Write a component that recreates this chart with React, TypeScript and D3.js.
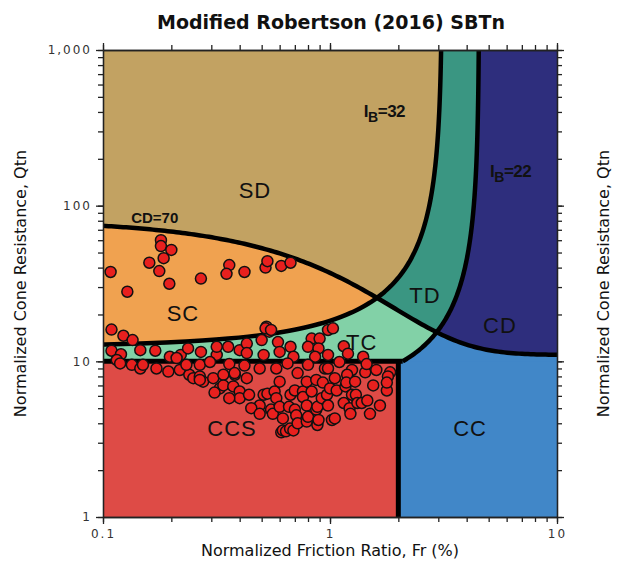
import * as d3 from "d3";
import { useEffect, useRef } from "react";

// Axis ticks
const xTicks = [0.1, 1, 10];
const yTicks = [1, 10, 100, 1000];

// Zone names and where their labels sit (Fr, Qtn)
const zoneNames = ["SD", "SC", "TD", "TC", "CD", "CC", "CCS"];
const zoneFr = [0.467, 0.225, 2.62, 1.38, 5.61, 4.14, 0.37];
const zoneQtn = [126, 20.4, 26.7, 13.3, 17.1, 3.73, 3.73];

// CPT data: [Fr (%), Qtn]
const scPoints: [number, number][] = [
  [0.18, 60], [0.18, 55], [0.2, 52], [0.16, 43], [0.185, 46], [0.177, 38], [0.108, 37.5],
  [0.196, 31.5], [0.128, 28], [0.27, 34], [0.36, 41.5], [0.35, 36.5], [0.42, 37.5],
  [0.52, 40], [0.53, 44], [0.61, 41], [0.67, 43],
];

const tcPoints: [number, number][] = [
  [0.109, 16], [0.123, 14.6], [0.135, 13.7], [0.525, 16.7], [0.54, 15.5], [0.52, 16.3],
  [0.55, 15.9], [0.98, 15.9], [1.03, 16.3], [0.109, 11.7], [0.12, 11.1], [0.146, 11.8],
  [0.17, 11.7], [0.197, 10.7], [0.22, 11], [0.237, 12.1], [0.27, 11.5], [0.317, 11],
  [0.356, 12.4], [0.317, 12.4], [0.4, 11.8], [0.211, 10.5], [0.43, 13], [0.43, 11.3],
  [0.5, 13.7], [0.59, 13.3], [0.67, 12.4], [0.83, 14], [0.9, 14], [0.8, 12.4], [0.89, 12.1],
  [0.51, 11], [0.6, 11.5], [0.69, 10.7], [0.86, 10.7], [0.98, 11], [1.15, 12.5], [1.2, 11.2],
  [1.4, 10.7],
];

const ccsPoints: [number, number][] = [
  [0.115, 10.2], [0.119, 9.7], [0.134, 9.5], [0.146, 9.0], [0.15, 9.5], [0.172, 9],
  [0.194, 8.6], [0.218, 8.8], [0.24, 8.2], [0.25, 7.8], [0.267, 8], [0.276, 7.4],
  [0.306, 7.8], [0.339, 8.2], [0.381, 8.2], [0.233, 9.5], [0.267, 9.5], [0.296, 9.9],
  [0.36, 9.6], [0.42, 9.4], [0.49, 9], [0.58, 9], [0.65, 9.7], [0.72, 8.4], [0.8, 9.5],
  [0.95, 9], [0.98, 9.0], [1.1, 9.9], [1.25, 8.8], [1.43, 8.5], [1.45, 9.6], [1.6, 8.8],
  [1.84, 8.5], [1.8, 8], [1.05, 7.8], [1.19, 8.2], [0.267, 7.6], [0.327, 6.7], [0.339, 7],
  [0.375, 6.9], [0.38, 8.4], [0.4, 6.4], [0.4, 5.8], [0.43, 7.8], [0.44, 6.1], [0.49, 5.2],
  [0.51, 6.1], [0.53, 6.2], [0.55, 4.9], [0.56, 4.6], [0.57, 6.4], [0.58, 5.8], [0.6, 7.4],
  [0.6, 5.1], [0.61, 3.5], [0.62, 4.3], [0.62, 3.6], [0.64, 3.55], [0.66, 5.1], [0.667, 3.7],
  [0.67, 6.1], [0.69, 3.6], [0.7, 6.5], [0.7, 4.9], [0.71, 4.5], [0.72, 4.0], [0.76, 6.4],
  [0.76, 5.9], [0.79, 7.4], [0.79, 5.2], [0.79, 4.1], [0.8, 4.4], [0.83, 6.4], [0.87, 7.6],
  [0.87, 4.9], [0.88, 5.1], [0.88, 3.9], [0.89, 4.2], [0.92, 5.8], [0.93, 7.3], [0.97, 6.1],
  [0.98, 5.2], [1.0, 6.7], [1.02, 4.2], [1.05, 4.3], [1.07, 6.5], [1.15, 5.4], [1.17, 6.9],
  [1.18, 7.3], [1.22, 5.0], [1.23, 4.6], [1.25, 6.1], [1.29, 7.4], [1.3, 6.1], [1.32, 5.4],
  [1.38, 5.4], [1.46, 5.6], [1.5, 4.6], [1.55, 7], [1.66, 5.2], [1.78, 6.5], [1.78, 7.3],
  [0.31, 6.3], [0.36, 5.8], [0.45, 5.0], [0.49, 4.6],
];

const colors: Record<string, string> = {
  SD: "#c2a262", SC: "#f0a250", TD: "#3a9682", TC: "#82d1a7",
  CD: "#2e2e7d", CC: "#4187c8", CCS: "#de4b46",
};

const width = 618;
const height = 570;
const marginLeft = 103;
const marginRight = 61;
const marginTop = 50;
const marginBottom = 53;

// Robertson (2016) boundaries
const cd70 = (fr: number) => 11 + 70 / Math.pow(1 + 0.06 * fr, 17);
const ib32Fr = (q: number) => (100 - 1240 / q) / 32;
const ib22Fr = (q: number) => (100 - 540 / q) / 22;
const logSample = (a: number, b: number, n: number) =>
  d3.range(n + 1).map((i) => Math.pow(10, Math.log10(a) + (i / n) * (Math.log10(b) - Math.log10(a))));

function draw(node: SVGSVGElement) {
  const svg = d3.select(node);
  svg.selectAll("*").remove();

  const x = d3.scaleLog().domain([0.1, 10]).range([marginLeft, width - marginRight]);
  const y = d3.scaleLog().domain([1, 1000]).range([height - marginBottom, marginTop]);
  const line = d3.line<[number, number]>().x((d) => x(d[0])).y((d) => y(d[1]));

  const defs = svg.append("defs");
  defs.append("clipPath").attr("id", "plot-clip")
    .append("rect")
    .attr("x", x(0.1)).attr("y", y(1000))
    .attr("width", x(10) - x(0.1)).attr("height", y(1) - y(1000));

  const cdCurve: [number, number][] = logSample(0.05, 20, 200).map((f) => [f, cd70(f)]);
  defs.append("clipPath").attr("id", "cd-clip")
    .append("path")
    .attr("d", line([[0.05, 0.5], ...cdCurve, [20, 0.5]]));

  const ib32Curve: [number, number][] = logSample(12.45, 1000, 300).map((q) => [ib32Fr(q), q]);
  const ib22Curve: [number, number][] = logSample(5.45, 1000, 300).map((q) => [ib22Fr(q), q]);
  const above32 = [[0.01, 12.45], ...ib32Curve, [ib32Fr(1000), 3000], [0.01, 3000]] as [number, number][];
  const above22 = [[0.01, 5.45], ...ib22Curve, [ib22Fr(1000), 3000], [0.01, 3000]] as [number, number][];

  const plot = svg.append("g").attr("clip-path", "url(#plot-clip)");
  const full = (g: d3.Selection<SVGGElement, unknown, null, undefined>, fill: string) =>
    g.append("rect")
      .attr("x", x(0.1)).attr("y", y(1000))
      .attr("width", x(10) - x(0.1)).attr("height", y(1) - y(1000))
      .attr("fill", fill);

  full(plot, colors.CD);
  plot.append("path").attr("d", line(above22)).attr("fill", colors.TD);
  plot.append("path").attr("d", line(above32)).attr("fill", colors.SD);

  const lower = plot.append("g").attr("clip-path", "url(#cd-clip)");
  full(lower, colors.CC);
  lower.append("path").attr("d", line(above22)).attr("fill", colors.TC);
  lower.append("path").attr("d", line(above32)).attr("fill", colors.SC);

  plot.append("rect")
    .attr("x", x(0.1)).attr("y", y(10))
    .attr("width", x(2) - x(0.1)).attr("height", y(1) - y(10))
    .attr("fill", colors.CCS);
  plot.append("rect")
    .attr("x", x(2)).attr("y", y(10))
    .attr("width", x(10) - x(2)).attr("height", y(1) - y(10))
    .attr("fill", colors.CC);

  // boundary lines
  const lines = plot.append("g").attr("fill", "none").attr("stroke", "#000");
  lines.append("path").attr("d", line(cdCurve)).attr("stroke-width", 4.5);
  lines.append("path").attr("d", line(ib32Curve)).attr("stroke-width", 4.5);
  lines.append("path").attr("d", line(logSample(10, 1000, 300).map((q) => [ib22Fr(q), q]) as [number, number][]))
    .attr("stroke-width", 4.5);
  lines.append("path").attr("d", line([[0.1, 10], [ib22Fr(10), 10]])).attr("stroke-width", 5);
  lines.append("path").attr("d", line([[2, 1], [2, 10]])).attr("stroke-width", 5);

  // zone labels
  svg.append("g")
    .attr("font-family", "'Liberation Sans', Arial, sans-serif")
    .attr("font-size", 22)
    .attr("letter-spacing", 1)
    .attr("text-anchor", "middle")
    .attr("fill", "#111")
    .selectAll("text")
    .data(zoneNames)
    .join("text")
    .attr("x", (_, i) => x(zoneFr[i]))
    .attr("y", (_, i) => y(zoneQtn[i]))
    .attr("dy", "0.36em")
    .text((d) => d);

  const ann = svg.append("g")
    .attr("font-family", "'Liberation Sans', Arial, sans-serif")
    .attr("fill", "#111");
  ann.append("text")
    .attr("x", x(0.169)).attr("y", y(83.3)).attr("dy", "0.36em")
    .attr("text-anchor", "middle").attr("font-size", 15).attr("font-weight", "bold")
    .text("CD=70");
  const ib = [
    { fr: 1.41, q: 371, label: "=32" },
    { fr: 5.07, q: 153, label: "=22" },
  ];
  ib.forEach((d) => {
    const t = ann.append("text").attr("x", x(d.fr)).attr("y", y(d.q))
      .attr("font-size", 17).attr("font-weight", "bold").attr("letter-spacing", -0.5);
    t.append("tspan").text("I");
    t.append("tspan").attr("dy", 5).attr("font-size", 14).text("B");
    t.append("tspan").attr("dy", -5).text(d.label);
  });

  // data points
  svg.append("g")
    .attr("fill", "#e8201e")
    .attr("stroke", "#111")
    .attr("stroke-width", 1.5)
    .selectAll("circle")
    .data([...scPoints, ...tcPoints, ...ccsPoints])
    .join("circle")
    .attr("cx", (d) => x(d[0]))
    .attr("cy", (d) => y(d[1]))
    .attr("r", 5.5);

  // axes
  const tickStyle = (g: d3.Selection<SVGGElement, unknown, null, undefined>) => {
    g.selectAll(".tick line").attr("stroke", "#222").attr("stroke-width", 1.3);
    g.select(".domain").attr("stroke", "#222").attr("stroke-width", 1.3);
    g.selectAll(".tick text")
      .attr("fill", "#333")
      .attr("font-family", "'DejaVu Sans', Verdana, sans-serif")
      .attr("font-size", 12)
      .attr("letter-spacing", 2);
  };
  const xMinor = x.ticks();
  const yMinor = y.ticks();
  const bottom = height - marginBottom;
  const right = width - marginRight;

  svg.append("g").attr("transform", `translate(0,${bottom})`)
    .call(d3.axisBottom(x).tickValues(xMinor).tickSize(5).tickSizeOuter(0).tickFormat(() => ""))
    .call(tickStyle);
  svg.append("g").attr("transform", `translate(0,${bottom})`)
    .call(d3.axisBottom(x).tickValues(xTicks).tickSize(7).tickSizeOuter(0).tickPadding(5).tickFormat(d3.format("")))
    .call(tickStyle);
  svg.append("g").attr("transform", `translate(0,${marginTop})`)
    .call(d3.axisTop(x).tickValues(xMinor).tickSize(5).tickSizeOuter(0).tickFormat(() => ""))
    .call(tickStyle);
  svg.append("g").attr("transform", `translate(0,${marginTop})`)
    .call(d3.axisTop(x).tickValues(xTicks).tickSize(7).tickSizeOuter(0).tickFormat(() => ""))
    .call(tickStyle);
  svg.append("g").attr("transform", `translate(${marginLeft},0)`)
    .call(d3.axisLeft(y).tickValues(yMinor).tickSize(5).tickSizeOuter(0).tickFormat(() => ""))
    .call(tickStyle);
  svg.append("g").attr("transform", `translate(${marginLeft},0)`)
    .call(d3.axisLeft(y).tickValues(yTicks).tickSize(7).tickSizeOuter(0).tickPadding(4).tickFormat(d3.format(",")))
    .call(tickStyle);
  svg.append("g").attr("transform", `translate(${right},0)`)
    .call(d3.axisRight(y).tickValues(yMinor).tickSize(5).tickSizeOuter(0).tickFormat(() => ""))
    .call(tickStyle);
  svg.append("g").attr("transform", `translate(${right},0)`)
    .call(d3.axisRight(y).tickValues(yTicks).tickSize(7).tickSizeOuter(0).tickFormat(() => ""))
    .call(tickStyle);

  // titles
  const titles = svg.append("g")
    .attr("font-family", "'DejaVu Sans', Verdana, sans-serif")
    .attr("fill", "#111")
    .attr("text-anchor", "middle");
  titles.append("text")
    .attr("x", 331).attr("y", 29)
    .attr("font-size", 19).attr("font-weight", "bold")
    .text("Modified Robertson (2016) SBTn");
  titles.append("text")
    .attr("x", (marginLeft + right) / 2).attr("y", 556)
    .attr("font-size", 16)
    .text("Normalized Friction Ratio, Fr (%)");
  titles.append("text")
    .attr("transform", `translate(26,${(marginTop + bottom) / 2}) rotate(-90)`)
    .attr("font-size", 16)
    .text("Normalized Cone Resistance, Qtn");
  titles.append("text")
    .attr("transform", `translate(609,${(marginTop + bottom) / 2}) rotate(-90)`)
    .attr("font-size", 16)
    .text("Normalized Cone Resistance, Qtn");
}

export default function App() {
  const ref = useRef<SVGSVGElement | null>(null);
  useEffect(() => {
    if (ref.current) draw(ref.current);
  }, []);
  return (
    <svg
      ref={ref}
      width={width}
      height={height}
      style={{ position: "absolute", left: 0, top: 0, background: "#fff" }}
    />
  );
}
